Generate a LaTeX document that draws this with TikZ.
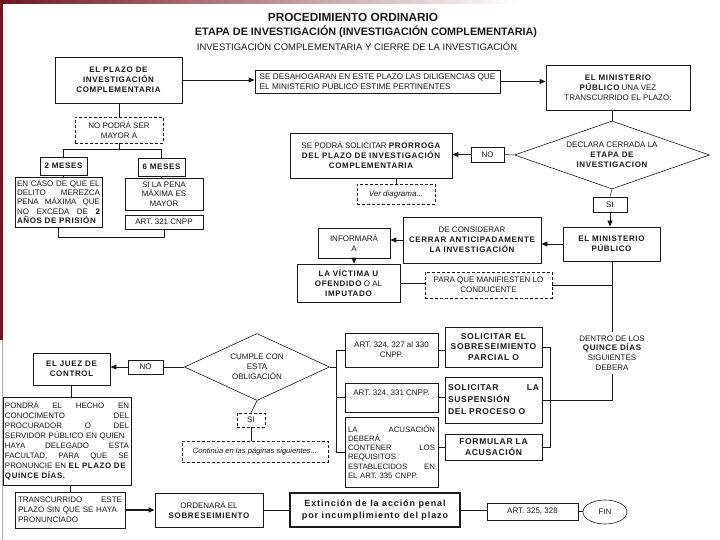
\documentclass[tikz,border=0pt]{standalone}
\usepackage{fontspec}
\setmainfont{Liberation Sans}
\usetikzlibrary{arrows.meta, positioning, shapes.geometric, calc}
\definecolor{marco}{RGB}{112,22,32}
\definecolor{tinta}{RGB}{25,25,25}
\newcommand{\negra}[1]{{\bfseries\addfontfeature{LetterSpace=8}#1}}

\tikzset{
  caja/.style={draw=tinta, line width=0.8pt, align=center, inner sep=1pt, text=tinta, font=\fontsize{8}{10}\selectfont},
  cajaclara/.style={caja, line width=0.5pt, densely dashed},
  rombo/.style={caja, diamond, inner sep=0pt, line width=0.6pt},
  linea/.style={draw=tinta, line width=0.5pt},
  flecha/.style={linea, line width=0.8pt, -{Triangle[length=6pt,width=5pt]}},
}

\begin{document}
\begin{tikzpicture}[x=1pt, y=-1pt]
  \useasboundingbox (0,0) rectangle (720,540);
  % Slide frame
  \fill[marco] (0,0) rectangle (3,340);
  \fill[gray!60] (2,340) rectangle (3,540);
  \shade[left color=marco, right color=white] (0,0) rectangle (520,4);

  % Titles
  \node[font=\fontsize{11.8}{13}\selectfont\bfseries, text=tinta] (titulo1) at (353,17) {PROCEDIMIENTO ORDINARIO};
  \node[font=\fontsize{10.8}{12}\selectfont\bfseries, text=tinta] (titulo2) at (366,32) {ETAPA DE INVESTIGACIÓN (INVESTIGACIÓN COMPLEMENTARIA)};
  \node[font=\fontsize{9.5}{11}\selectfont, text=tinta] (titulo3) at (357,46) {INVESTIGACIÓN COMPLEMENTARIA Y CIERRE DE LA INVESTIGACIÓN};

  % Top row
  \node[caja, minimum width=127, minimum height=46] (plazo) at (118.5,80) {\negra{EL PLAZO DE}\\\negra{INVESTIGACIÓN}\\\negra{COMPLEMENTARIA}};
  \node[caja, minimum width=245, minimum height=23, align=left, font=\fontsize{8.2}{10}\selectfont] (desahogo) at (377.5,81.5) {SE DESAHOGARAN EN ESTE PLAZO LAS DILIGENCIAS QUE\\EL MINISTERIO PUBLICO ESTIME PERTINENTES};
  \node[caja, minimum width=144, minimum height=45] (mp1) at (618,87.5) {\negra{EL MINISTERIO}\\\negra{PÚBLICO} UNA VEZ\\TRANSCURRIDO EL PLAZO:};

  % Plazo maximo
  \node[cajaclara, minimum width=88, minimum height=26] (noPodra) at (119,130) {NO PODRÁ SER\\MAYOR A};
  \node[caja, minimum width=47, minimum height=18] (dosMeses) at (63.5,166) {\negra{2 MESES}};
  \node[caja, minimum width=47, minimum height=18] (seisMeses) at (161.5,167) {\negra{6 MESES}};
  \node[caja, minimum width=87, minimum height=50, text width=83, align=left, font=\fontsize{8}{9.3}\selectfont] (enCaso) at (58.5,202) {EN CASO DE QUE EL\\DELITO \hfill MEREZCA\\PENA \hfill MÁXIMA \hfill QUE\\NO \hfill EXCEDA \hfill DE \hfill \negra{2}\\\negra{AÑOS DE PRISIÓN}};
  \node[caja, minimum width=78, minimum height=32, font=\fontsize{8}{9.5}\selectfont] (siPena) at (164,194) {SI LA PENA\\MÁXIMA ES\\MAYOR};
  \node[caja, minimum width=78, minimum height=14] (art321) at (164,222) {ART. 321 CNPP};

  % Cierre de la etapa
  \node[rombo, aspect=2.9, minimum width=195, minimum height=68] (cerrada) at (612,155) {DECLARA CERRADA LA\\\negra{ETAPA DE}\\\negra{INVESTIGACION}};
  \node[caja, minimum width=33, minimum height=15] (no1) at (487.5,154.5) {NO};
  \node[caja, minimum width=162, minimum height=45] (prorroga) at (371,155.5) {SE PODRÁ SOLICITAR \negra{PRORROGA}\\\negra{DEL PLAZO DE INVESTIGACIÓN}\\\negra{COMPLEMENTARIA}};
  \node[cajaclara, minimum width=78, minimum height=20, font=\fontsize{8}{10}\selectfont\itshape] (verDiagrama) at (396,194) {Ver diagrama...};
  \node[caja, minimum width=34, minimum height=15] (si1) at (610,204.5) {SI};
  \node[caja, minimum width=97, minimum height=34] (mp2) at (611.5,244) {\negra{EL MINISTERIO}\\\negra{PÚBLICO}};
  \node[caja, minimum width=138, minimum height=46] (considerar) at (472,240) {DE CONSIDERAR\\\negra{CERRAR ANTICIPADAMENTE}\\\negra{LA INVESTIGACIÓN}};
  \node[caja, minimum width=72, minimum height=30, line width=0.6pt] (informara) at (354,243) {INFORMARÁ\\A};
  \node[caja, minimum width=103, minimum height=38] (victima) at (348.5,283) {\negra{LA VÍCTIMA U}\\\negra{OFENDIDO} O AL\\\negra{IMPUTADO}};
  \node[cajaclara, minimum width=127, minimum height=26] (manifiesten) at (488.5,285) {PARA QUE MANIFIESTEN LO\\CONDUCENTE};
  \node[font=\fontsize{8}{9.6}\selectfont, align=center, text=tinta] (dentro) at (612,353) {DENTRO DE LOS\\\negra{QUINCE DÍAS}\\SIGUIENTES\\DEBERA};

  % Opciones del MP
  \node[caja, minimum width=97, minimum height=40, font=\fontsize{8.5}{10.5}\selectfont] (sol1) at (493.5,347) {\negra{SOLICITAR EL}\\\negra{SOBRESEIMIENTO}\\\negra{PARCIAL O}};
  \node[caja, minimum width=97, minimum height=46, text width=91, align=left, font=\fontsize{8.5}{12}\selectfont] (sol2) at (493.5,400) {\negra{SOLICITAR} \hfill \negra{LA}\\\negra{SUSPENSIÓN}\\\negra{DEL PROCESO O}};
  \node[caja, minimum width=97, minimum height=26, font=\fontsize{8.5}{10.5}\selectfont] (sol3) at (493.5,447) {\negra{FORMULAR LA}\\\negra{ACUSACIÓN}};
  \node[caja, minimum width=93, minimum height=34, line width=0.6pt] (art1) at (391.5,350) {ART. 324, 327 al 330\\CNPP.};
  \node[caja, minimum width=93, minimum height=29, line width=0.6pt] (art2) at (391.5,397.5) {ART. 324, 331 CNPP.\\\mbox{}};
  \node[caja, minimum width=93, minimum height=70, text width=87, align=left, line width=0.6pt, font=\fontsize{7.8}{9.2}\selectfont] (art3) at (391.5,452) {LA \hfill ACUSACIÓN\\DEBERÁ\\CONTENER \hfill LOS\\REQUISITOS\\ESTABLECIDOS \hfill EN\\EL ART. 335 CNPP.};

  % Obligacion y juez de control
  \node[rombo, aspect=2.2, minimum width=145, minimum height=67] (cumple) at (257,367) {CUMPLE CON\\ESTA\\OBLIGACIÓN};
  \node[caja, minimum width=35, minimum height=14] (no2) at (145.5,367) {NO};
  \node[caja, minimum width=77, minimum height=32] (juez) at (71.5,369) {\negra{EL JUEZ DE}\\\negra{CONTROL}};
  \node[caja, minimum width=128, minimum height=88, text width=124, align=left, font=\fontsize{7.9}{10}\selectfont] (pondra) at (67,441) {PONDRÁ \hfill EL \hfill HECHO \hfill EN\\CONOCIMENTO \hfill DEL\\PROCURADOR \hfill O \hfill DEL\\SERVIDOR PÚBLICO EN QUIEN\\HAYA \hfill DELEGADO \hfill ESTA\\FACULTAD, \hfill PARA \hfill QUE \hfill SE\\PRONUNCIE EN \negra{EL PLAZO DE}\\\negra{QUINCE DÍAS.}};
  \node[cajaclara, minimum width=28, minimum height=14] (si2) at (251,420) {SI};
  \node[cajaclara, minimum width=146, minimum height=21, font=\fontsize{7.6}{9}\selectfont\itshape] (continua) at (255,451.5) {Continúa en las páginas siguientes...};

  % Bottom row
  \node[caja, minimum width=110, minimum height=36, text width=104, align=left] (transcurrido) at (70,510) {TRANSCURRIDO \hfill ESTE\\PLAZO SIN QUE SE HAYA\\PRONUNCIADO};
  \node[caja, minimum width=108, minimum height=34] (ordenara) at (209,510) {ORDENARÁ EL\\\negra{SOBRESEIMIENTO}};
  \node[caja, minimum width=170, minimum height=34, line width=1.3pt, font=\fontsize{9}{12}\selectfont\bfseries\addfontfeature{LetterSpace=10}] (extincion) at (375,510) {Extinción de la acción penal\\por incumplimiento del plazo};
  \node[caja, minimum width=91, minimum height=17, line width=0.6pt] (art325) at (532.5,511.5) {ART. 325, 328};
  \node[caja, ellipse, minimum width=44, minimum height=24, line width=0.6pt] (fin) at (605,512) {FIN};

  % Connectors: top
  \draw[flecha] (plazo.east) -- (plazo.east -| desahogo.west);
  \draw[flecha] (desahogo.east) -- (desahogo.east -| mp1.west);
  \draw[linea] (cerrada.north) -- (cerrada.north |- mp1.south);
  \draw[linea] (noPodra.north) -- (noPodra.north |- plazo.south);
  \draw[linea] (noPodra.south) -- ++(0,6) coordinate (ramal);
  \draw[linea] (dosMeses.north) |- (ramal) -| (seisMeses.north);
  \draw[linea] (dosMeses.south) -- (dosMeses.south |- enCaso.north);
  \draw[linea] (seisMeses.south) -- (seisMeses.south |- siPena.north);
  \draw[linea] (enCaso.south) -- ++(0,10) coordinate (cierre) -| (art321.south);

  % Connectors: cierre
  \draw[linea] (cerrada.west) -- (no1.east);
  \draw[flecha] (no1.west) -- (no1.west -| prorroga.east);
  \draw[linea] (verDiagrama.north) -- (verDiagrama.north |- prorroga.south);
  \draw[linea] (cerrada.south) -- (si1.north);
  \draw[flecha] (si1.south) -- (si1.south |- mp2.north);
  \draw[flecha] (mp2.west) -- (mp2.west -| considerar.east);
  \draw[flecha] (considerar.west) -- (considerar.west -| informara.east);
  \draw[flecha] (informara.south) -- (informara.south |- victima.north);
  \draw[linea] (victima.east) -- (victima.east -| manifiesten.west);
  \draw[linea] (manifiesten.east) -- (manifiesten.east -| dentro.north);
  \draw[linea] (dentro.north |- mp2.south) -- (dentro.north);
  \draw[linea] (dentro.south) -- (dentro.south |- sol2.east) -- (sol2.east);
  \draw[linea] (sol1.east) -- ++(8,0) coordinate (corchete) -- (corchete |- sol3.east) -- (sol3.east);

  % Connectors: opciones
  \draw[linea] (art1.east) -- (art1.east -| sol1.west);
  \draw[linea] (art2.east) -- (art2.east -| sol2.west);
  \draw[linea] (sol3.west -| art3.east) -- (sol3.west);
  \draw[linea] (art1.west) -- ++(-8,0) coordinate (llave) -- (llave |- art3.west) -- (art3.west);
  \draw[linea] (art2.west) -- (art2.west -| llave);
  \draw[linea] (cumple.east) -- (cumple.east -| llave);

  % Connectors: juez de control
  \draw[linea] (cumple.west) -- (no2.east);
  \draw[flecha] (no2.west) -- (no2.west -| juez.east);
  \draw[linea] (juez.south) -- (juez.south |- pondra.north);
  \draw[linea] (cumple.south) -- (si2.north);
  \draw[linea] (si2.south) -- (si2.south |- continua.north);
  \draw[linea] (transcurrido.north) -- (transcurrido.north |- pondra.south);
  \draw[flecha, line width=1.3pt] (transcurrido.east) -- (ordenara.west);
  \draw[linea] (ordenara.east) -- (extincion.west);
  \draw[linea] (extincion.east) -- (extincion.east -| art325.west);
  \draw[linea] (art325.east) -- (art325.east -| fin.west);
\end{tikzpicture}
\end{document}
